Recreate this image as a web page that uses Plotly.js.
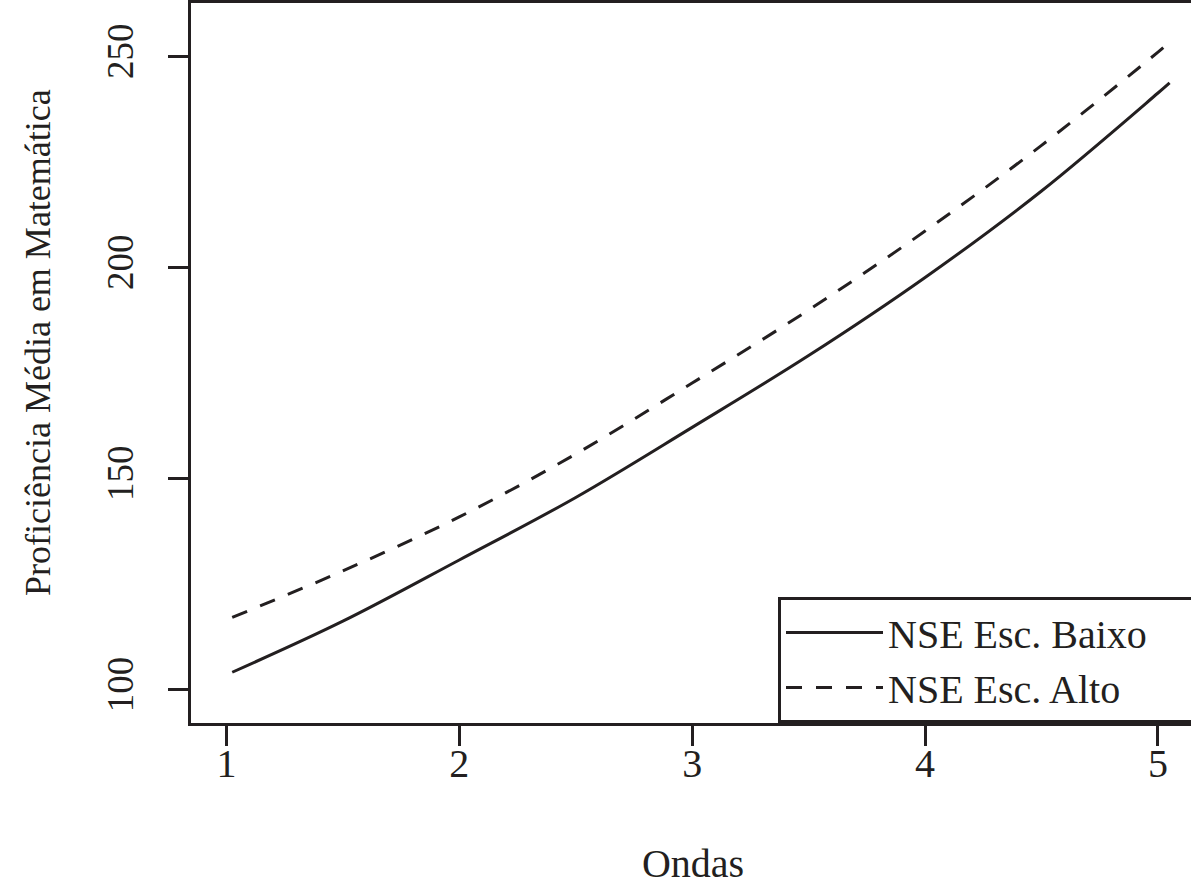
<!DOCTYPE html>
<html>
<head>
<meta charset="utf-8">
<script src="https://cdn.plot.ly/plotly-3.0.1.min.js"></script>
<style>
  html, body { margin: 0; padding: 0; overflow: hidden; background: #ffffff; }
  #chart { width: 1196px; height: 894px; }
</style>
</head>
<body>
<div id="chart"></div>
<script>
// Data
const ondas = [1.025, 1.5, 2, 2.5, 3, 3.5, 4, 4.5, 5, 5.05];
const nseBaixo = [104.2, 116.3, 130.8, 145.6, 162.2, 179.2, 197.7, 218.2, 241.4, 243.8];
const nseAlto  = [117.2, 128.2, 141.0, 155.9, 172.7, 190.0, 208.7, 229.0, 251.1, 253.5];
const xTicks = [1, 2, 3, 4, 5];
const yTicks = [100, 150, 200, 250];
const seriesNames = ['NSE Esc. Baixo', 'NSE Esc. Alto'];
const xTitle = 'Ondas';
const yTitle = 'Proficiência Média em Matemática';

const INK = '#231f20';
const FONT = 'Liberation Serif, Times New Roman, serif';
const PAD = '\u00A0'.repeat(4);

const traces = [
  {
    x: ondas, y: nseBaixo, name: seriesNames[0] + PAD, type: 'scatter', mode: 'lines',
    line: { color: INK, width: 3, shape: 'spline', smoothing: 1 }
  },
  {
    x: ondas, y: nseAlto, name: seriesNames[1], type: 'scatter', mode: 'lines',
    line: { color: INK, width: 3, dash: '16px,14px', shape: 'spline', smoothing: 1 }
  }
];

const axisCommon = {
  showgrid: false, zeroline: false,
  showline: true, linewidth: 3, linecolor: INK, mirror: true,
  ticks: 'outside', ticklen: 20, tickwidth: 3, tickcolor: INK
};

const layout = {
  width: 1196, height: 894,
  margin: { l: 191, r: 1, t: 3, b: 171, pad: 0 },
  paper_bgcolor: '#ffffff', plot_bgcolor: '#ffffff',
  font: { family: FONT, color: INK },
  showlegend: true,
  legend: {
    x: 1, xanchor: 'right', y: 0, yanchor: 'bottom',
    bgcolor: '#ffffff', bordercolor: INK, borderwidth: 3,
    font: { family: FONT, size: 40, color: INK },
    itemwidth: 97, tracegroupgap: 0
  },
  xaxis: Object.assign({}, axisCommon, {
    range: [0.848, 5.159], tickmode: 'array', tickvals: xTicks,
    ticktext: xTicks.map(String), ticklabelstandoff: -17,
    tickfont: { family: FONT, size: 40, color: INK },
    title: { text: xTitle, font: { family: FONT, size: 40, color: INK }, standoff: 64 }
  }),
  yaxis: Object.assign({}, axisCommon, {
    range: [92.18, 262.72], tickmode: 'array', tickvals: yTicks,
    ticktext: yTicks.map(String), tickangle: -90, ticklabelstandoff: 20,
    tickfont: { family: FONT, size: 37, color: INK }
  }),
  annotations: [{
    text: yTitle, textangle: -90, showarrow: false,
    xref: 'paper', yref: 'paper', x: 0, y: 0.5, xanchor: 'center', yanchor: 'middle',
    xshift: -153, yshift: 20,
    font: { family: FONT, size: 36, color: INK }
  }]
};

Plotly.newPlot('chart', traces, layout, { displayModeBar: false, staticPlot: true });
</script>
</body>
</html>
